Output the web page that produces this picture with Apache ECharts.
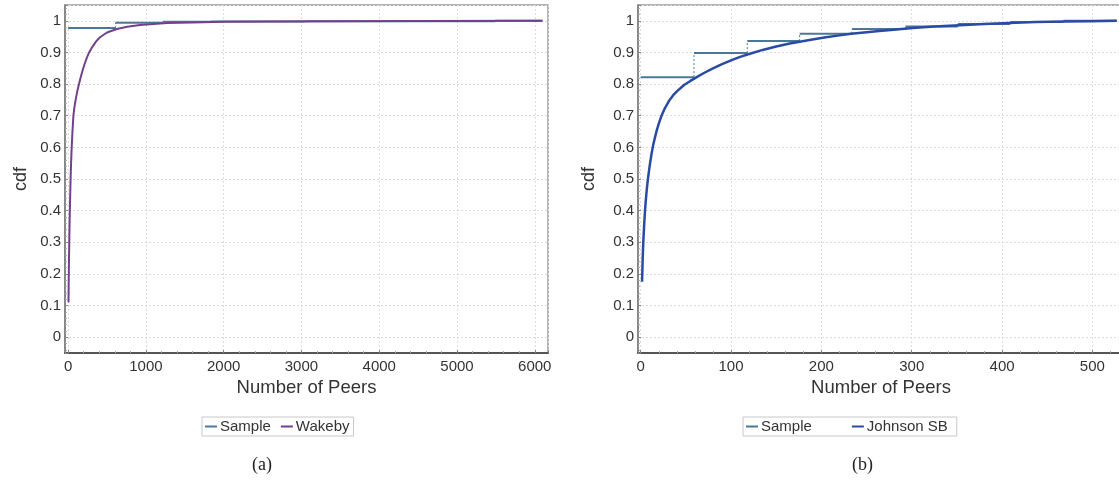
<!DOCTYPE html>
<html>
<head>
<meta charset="utf-8">
<script src="https://cdn.jsdelivr.net/npm/echarts@6/dist/echarts.min.js"></script>
<style>
  html, body { margin: 0; padding: 0; background: #fff; }
  #chart { width: 1119px; height: 483px; }
</style>
</head>
<body>
<div id="chart"></div>
<script>
// (a) empirical CDF of peer counts (step edges + step heights) and Wakeby fit
const sampleAEdges = [0, 610, 1220, 1830, 2440, 3050, 3660, 4270, 4880, 5490, 6100];
const sampleAValues = [0.977, 0.994, 0.997, 0.998, 0.998, 0.999, 0.999, 0.999, 0.999, 1.0];
const wakebyX = [5, 7, 9, 11, 13, 15, 18, 22, 27, 32, 38, 46, 56, 68, 80, 100, 120, 140, 160, 185, 210, 240, 270, 310, 360, 410, 500, 626, 760, 925, 1100, 1270, 1600, 2000, 2600, 3500, 4500, 6100];
const wakebyY = [0.11, 0.16, 0.2, 0.24, 0.27, 0.3, 0.35, 0.4, 0.45, 0.5, 0.55, 0.6, 0.65, 0.7, 0.725, 0.755, 0.78, 0.8, 0.82, 0.842, 0.862, 0.883, 0.9, 0.917, 0.935, 0.948, 0.963, 0.974, 0.981, 0.987, 0.99, 0.993, 0.995, 0.997, 0.998, 0.999, 0.9995, 1.0];

// (b) empirical CDF over the 0-530 range and Johnson SB fit
const sampleBEdges = [0, 59, 118, 176, 234, 293, 351, 409, 468, 527];
const sampleBValues = [0.822, 0.898, 0.936, 0.959, 0.974, 0.982, 0.990, 0.996, 1.0];
const johnsonX = [1.5, 2, 2.5, 3, 4, 5, 6, 7, 8, 9, 10, 12, 14, 16, 18, 20, 23, 27, 32, 36, 40, 48, 55, 62, 70, 80, 90, 100, 110, 120, 135, 150, 165, 176, 190, 205, 220, 233, 250, 264, 280, 301, 325, 353, 380, 408, 437, 467, 497, 527];
const johnsonY = [0.175, 0.23, 0.275, 0.31, 0.365, 0.41, 0.445, 0.475, 0.5, 0.522, 0.543, 0.58, 0.61, 0.634, 0.656, 0.675, 0.7, 0.725, 0.75, 0.765, 0.777, 0.797, 0.81, 0.822, 0.835, 0.85, 0.863, 0.875, 0.886, 0.895, 0.908, 0.919, 0.928, 0.934, 0.941, 0.948, 0.954, 0.959, 0.964, 0.968, 0.972, 0.977, 0.982, 0.986, 0.99, 0.993, 0.996, 0.998, 0.999, 1.0];

const yTicks = [0, 0.1, 0.2, 0.3, 0.4, 0.5, 0.6, 0.7, 0.8, 0.9, 1];
const xTicksA = [0, 1000, 2000, 3000, 4000, 5000, 6000];
const xTicksB = [0, 100, 200, 300, 400, 500];

const SAMPLE_COLOR = '#4b7898';
const WAKEBY_COLOR = '#72408c';
const JOHNSON_COLOR = '#2a4ba3';
const FONT = '"Liberation Sans", Arial, sans-serif';

// horizontal treads of a step function
function treads(edges, values) {
  const out = [];
  for (let i = 0; i < values.length; i++) {
    out.push([edges[i], values[i]], [edges[i + 1], values[i]], '-');
  }
  return out;
}
// vertical risers joining consecutive treads
function risers(edges, values) {
  const out = [];
  for (let i = 0; i < values.length - 1; i++) {
    out.push([edges[i + 1], values[i]], [edges[i + 1], values[i + 1]], '-');
  }
  return out;
}
function zip(xs, ys) { return xs.map((x, i) => [x, ys[i]]); }

function onTick(ticks) {
  return function (v) {
    for (const t of ticks) if (Math.abs(v - t) < 1e-6) return String(t);
    return '';
  };
}

function xAxisCfg(gridIndex, min, max, split, ticks) {
  return {
    type: 'value', gridIndex, min, max, splitNumber: split,
    name: 'Number of Peers', nameLocation: 'middle', nameGap: 25,
    nameTextStyle: { fontFamily: FONT, fontSize: 18.5, color: '#333' },
    axisLine: { show: true, onZero: false, lineStyle: { color: '#555', width: 2 } },
    axisTick: { show: true, inside: true, length: 3, lineStyle: { color: '#888' } },
    minorTick: { show: true, splitNumber: 5, length: 2, lineStyle: { color: '#aaa' } },
    axisLabel: { fontFamily: FONT, fontSize: 15, color: '#333', margin: 6, formatter: onTick(ticks) },
    splitLine: { show: true, lineStyle: { color: '#dcdcdc', type: [2, 2], width: 1 } }
  };
}
function yAxisCfg(gridIndex, gap) {
  return {
    type: 'value', gridIndex, min: -0.05, max: 1.05, splitNumber: 11,
    name: 'cdf', nameLocation: 'middle', nameGap: gap,
    nameTextStyle: { fontFamily: FONT, fontSize: 18, color: '#333' },
    axisLine: { show: true, onZero: false, lineStyle: { color: '#777', width: 1.5 } },
    axisTick: { show: true, inside: true, length: 3, lineStyle: { color: '#888' } },
    minorTick: { show: true, splitNumber: 5, length: 2, lineStyle: { color: '#aaa' } },
    axisLabel: { fontFamily: FONT, fontSize: 15, color: '#333', margin: 4, formatter: onTick(yTicks) },
    splitLine: { show: true, lineStyle: { color: '#dcdcdc', type: [2, 2], width: 1 } }
  };
}
function legendCfg(left, names, gap, padRight) {
  return {
    left, top: 417, orient: 'horizontal', data: names, selectedMode: false,
    icon: 'rect', itemWidth: 12, itemHeight: 2, itemGap: gap,
    borderColor: '#c8c8c8', borderWidth: 1, padding: [2, padRight, 2, 3],
    textStyle: { fontFamily: FONT, fontSize: 15, color: '#333', padding: [0, 0, 0, -2] }
  };
}

const chart = echarts.init(document.getElementById('chart'), null, { renderer: 'canvas' });
chart.setOption({
  animation: false,
  backgroundColor: '#fff',
  grid: [
    { left: 65, top: 5, width: 483, height: 348, show: true, borderColor: '#999', borderWidth: 1.5, outerBoundsMode: 'none' },
    { left: 638, top: 5, width: 486, height: 348, show: true, borderColor: '#999', borderWidth: 1.5, outerBoundsMode: 'none' }
  ],
  xAxis: [
    xAxisCfg(0, -40, 6170, 6, xTicksA),
    xAxisCfg(1, -3, 535, 5, xTicksB)
  ],
  yAxis: [yAxisCfg(0, 35), yAxisCfg(1, 40)],
  legend: [
    legendCfg(202, ['Sample', 'Wakeby'], 10, 4),
    legendCfg(743, ['Sample', 'Johnson SB'], 40, 9)
  ],
  graphic: [
    { type: 'text', left: 252, top: 456, style: { text: '(a)', fontFamily: '"Liberation Serif", "Times New Roman", serif', fontSize: 18, fill: '#222' } },
    { type: 'text', left: 852, top: 456, style: { text: '(b)', fontFamily: '"Liberation Serif", "Times New Roman", serif', fontSize: 18, fill: '#222' } }
  ],
  series: [
    { id: 'a-risers', type: 'line', xAxisIndex: 0, yAxisIndex: 0, data: risers(sampleAEdges, sampleAValues),
      symbol: 'none', connectNulls: false, color: SAMPLE_COLOR,
      lineStyle: { color: SAMPLE_COLOR, width: 1, type: [2, 2] } },
    { name: 'Sample', type: 'line', xAxisIndex: 0, yAxisIndex: 0, data: treads(sampleAEdges, sampleAValues),
      symbol: 'none', connectNulls: false, color: SAMPLE_COLOR, itemStyle: { color: SAMPLE_COLOR },
      lineStyle: { color: SAMPLE_COLOR, width: 2 } },
    { name: 'Wakeby', type: 'line', xAxisIndex: 0, yAxisIndex: 0, data: zip(wakebyX, wakebyY),
      symbol: 'none', smooth: false, color: WAKEBY_COLOR, itemStyle: { color: WAKEBY_COLOR },
      lineStyle: { color: WAKEBY_COLOR, width: 2, join: 'round' } },

    { id: 'b-risers', type: 'line', xAxisIndex: 1, yAxisIndex: 1, data: risers(sampleBEdges, sampleBValues),
      symbol: 'none', connectNulls: false, color: SAMPLE_COLOR,
      lineStyle: { color: SAMPLE_COLOR, width: 1, type: [2, 2] } },
    { name: 'Sample', type: 'line', xAxisIndex: 1, yAxisIndex: 1, data: treads(sampleBEdges, sampleBValues),
      symbol: 'none', connectNulls: false, color: SAMPLE_COLOR, itemStyle: { color: SAMPLE_COLOR },
      lineStyle: { color: SAMPLE_COLOR, width: 2 } },
    { name: 'Johnson SB', type: 'line', xAxisIndex: 1, yAxisIndex: 1, data: zip(johnsonX, johnsonY),
      symbol: 'none', smooth: false, color: JOHNSON_COLOR, itemStyle: { color: JOHNSON_COLOR },
      lineStyle: { color: JOHNSON_COLOR, width: 2.5, join: 'round' } }
  ]
});
</script>
</body>
</html>
